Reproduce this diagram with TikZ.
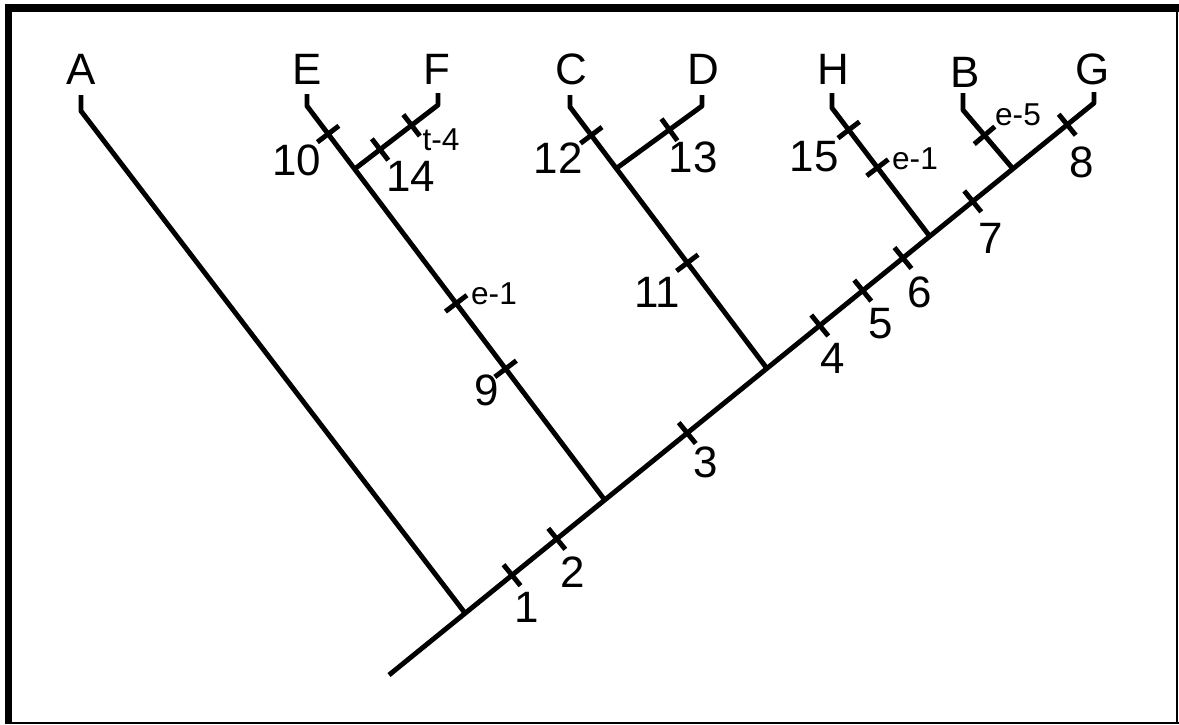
\documentclass[tikz,border=0pt]{standalone}
\usepackage{fontspec}
\setmainfont{Liberation Sans}
\usetikzlibrary{calc}
\newcommand{\phtick}[3]{%
  \coordinate (tk) at ($(#1)!#3!(#2)$);
  \draw[branch] ($(tk)!0.27cm!90:(#2)$) -- ($(tk)!0.27cm!-90:(#2)$);%
}
\tikzset{
  branch/.style={line width=2.8pt, line cap=butt, line join=round},
  big/.style={inner sep=0pt, font=\fontsize{25}{28}\selectfont},
  small/.style={inner sep=0pt, font=\fontsize{18}{20}\selectfont},
  frame/.style={fill=black}
}
\begin{document}
\begin{tikzpicture}[x=0.02cm, y=-0.02cm]
\useasboundingbox (0,0) rectangle (1179,724);
% frame
\fill[frame] (5,4) rectangle (1179,12);
\fill[frame] (5,4) rectangle (12,724);
\fill[frame] (1176,4) rectangle (1178,724);
\fill[frame] (5,721.5) rectangle (1179,723.5);

% backbone
\coordinate (root) at (389,675);
\coordinate (Gtip) at (1094,103);
\coordinate (Gtop) at (1094,92);
\coordinate (jA) at ($(root)!0.108!(Gtip)$);
\coordinate (jE) at ($(root)!0.306!(Gtip)$);
\coordinate (jC) at ($(root)!0.536!(Gtip)$);
\coordinate (jH) at ($(root)!0.767!(Gtip)$);
\coordinate (jB) at ($(root)!0.885!(Gtip)$);

% tips
\coordinate (Atip) at (81,111);  \coordinate (Atop) at (81,95);
\coordinate (Etip) at (307,106); \coordinate (Etop) at (307,94);
\coordinate (Ftip) at (438,105); \coordinate (Ftop) at (438,93);
\coordinate (Ctip) at (570,107); \coordinate (Ctop) at (570,95);
\coordinate (Dtip) at (702,106); \coordinate (Dtop) at (702,95);
\coordinate (Htip) at (832,108); \coordinate (Htop) at (832,93);
\coordinate (Btip) at (963,110); \coordinate (Btop) at (963,93);

\coordinate (jF) at ($(jE)!0.84!(Etip)$);
\coordinate (jD) at ($(jC)!0.765!(Ctip)$);

% branches
\draw[branch] (root) -- (Gtip) -- (Gtop);
\draw[branch] (jA) -- (Atip) -- (Atop);
\draw[branch] (jE) -- (Etip) -- (Etop);
\draw[branch] (jF) -- (Ftip) -- (Ftop);
\draw[branch] (jC) -- (Ctip) -- (Ctop);
\draw[branch] (jD) -- (Dtip) -- (Dtop);
\draw[branch] (jH) -- (Htip) -- (Htop);
\draw[branch] (jB) -- (Btip) -- (Btop);

% ticks on backbone
\phtick{root}{Gtip}{0.1745}
\phtick{root}{Gtip}{0.238}
\phtick{root}{Gtip}{0.423}
\phtick{root}{Gtip}{0.611}
\phtick{root}{Gtip}{0.672}
\phtick{root}{Gtip}{0.729}
\phtick{root}{Gtip}{0.828}
\phtick{root}{Gtip}{0.962}
% E branch
\phtick{jE}{Etip}{0.333}
\phtick{jE}{Etip}{0.499}
\phtick{jE}{Etip}{0.929}
% F branch
\phtick{jF}{Ftip}{0.305}
\phtick{jF}{Ftip}{0.683}
% C branch
\phtick{jC}{Ctip}{0.404}
\phtick{jC}{Ctip}{0.892}
% D branch
\phtick{jD}{Dtip}{0.62}
% H branch
\phtick{jH}{Htip}{0.535}
\phtick{jH}{Htip}{0.829}
% B branch
\phtick{jB}{Btip}{0.569}

% taxon labels
\node[big] (A) at (81,69) {A};
\node[big] (E) at (307,69) {E};
\node[big] (F) at (437,69) {F};
\node[big] (C) at (571,69) {C};
\node[big] (D) at (703,69) {D};
\node[big] (H) at (833,69) {H};
\node[big] (B) at (965,72) {B};
\node[big] (G) at (1093,69) {G};

% character labels
\node[big] (n1) at (527,607) {1};
\node[big] (n2) at (573,572) {2};
\node[big] (n3) at (706,462) {3};
\node[big] (n4) at (833,358) {4};
\node[big] (n5) at (881,324) {5};
\node[big] (n6) at (920,292) {6};
\node[big] (n7) at (991,238) {7};
\node[big] (n8) at (1082,162) {8};
\node[big] (n9) at (487,390) {9};
\node[big] (n10) at (297,160) {10};
\node[big] (n11) at (657,292) {11};
\node[big] (n12) at (558,158) {12};
\node[big] (n13) at (693,157) {13};
\node[big] (n14) at (411,176) {14};
\node[big] (n15) at (814,157) {15};

\node[small] (e1a) at (494,294) {e-1};
\node[small] (t4) at (441,140) {t-4};
\node[small] (e1b) at (915,159) {e-1};
\node[small] (e5) at (1018,115) {e-5};
\end{tikzpicture}
\end{document}
